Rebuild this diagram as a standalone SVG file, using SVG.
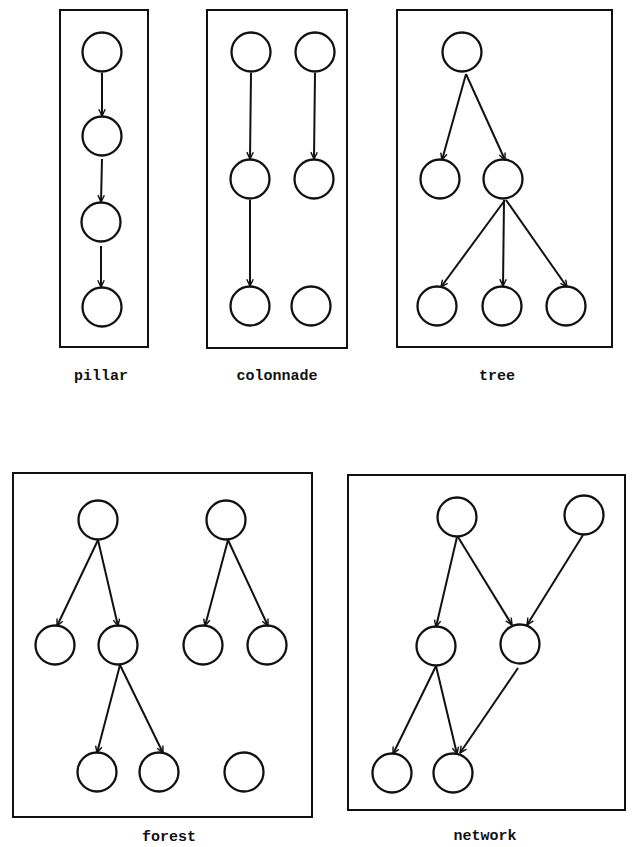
<svg xmlns="http://www.w3.org/2000/svg" width="633" height="847" viewBox="0 0 633 847">
<style>
.frame{fill:none;stroke:#111;stroke-width:2}
.node{fill:none;stroke:#111;stroke-width:2.3}
.edge{fill:none;stroke:#111;stroke-width:2;marker-end:url(#arr)}
.lbl{font-family:"Liberation Mono","DejaVu Sans Mono",monospace;font-weight:bold;font-size:15px;fill:#111;text-anchor:middle}
</style>
<defs>
<marker id="arr" viewBox="0 0 10 10" refX="9.5" refY="5" markerWidth="8" markerHeight="8" markerUnits="userSpaceOnUse" orient="auto">
<path d="M1,1 L9.5,5 L1,9" fill="none" stroke="#111" stroke-width="1.8"/>
</marker>
</defs>
<rect width="633" height="847" fill="#fff"/>

<g id="frames">
<rect class="frame" x="60" y="10" width="88" height="337"/>
<rect class="frame" x="207" y="10" width="140" height="338"/>
<rect class="frame" x="397" y="10" width="215" height="337"/>
<rect class="frame" x="13" y="473" width="299" height="344"/>
<rect class="frame" x="348" y="475" width="277" height="335"/>
</g>

<g id="pillar">
<circle id="p1" class="node" cx="102" cy="52" r="19.5"/>
<circle id="p2" class="node" cx="102" cy="136" r="19.5"/>
<circle id="p3" class="node" cx="101" cy="222" r="19.5"/>
<circle id="p4" class="node" cx="102" cy="307" r="19.5"/>
</g>

<g id="colonnade">
<circle id="c1" class="node" cx="251" cy="52" r="19.5"/>
<circle id="c2" class="node" cx="315" cy="52" r="19.5"/>
<circle id="c3" class="node" cx="250" cy="179" r="19.5"/>
<circle id="c4" class="node" cx="314" cy="179" r="19.5"/>
<circle id="c5" class="node" cx="250" cy="306" r="19.5"/>
<circle id="c6" class="node" cx="311" cy="306" r="19.5"/>
</g>

<g id="tree">
<circle id="t1" class="node" cx="462" cy="52" r="19.5"/>
<circle id="t2" class="node" cx="440" cy="179" r="19.5"/>
<circle id="t3" class="node" cx="503" cy="179" r="19.5"/>
<circle id="t4" class="node" cx="437" cy="306" r="19.5"/>
<circle id="t5" class="node" cx="502" cy="306" r="19.5"/>
<circle id="t6" class="node" cx="566" cy="306" r="19.5"/>
</g>

<g id="forest">
<circle id="f1" class="node" cx="98" cy="520" r="19.5"/>
<circle id="f2" class="node" cx="226" cy="520" r="19.5"/>
<circle id="f3" class="node" cx="55" cy="645" r="19.5"/>
<circle id="f4" class="node" cx="118" cy="645" r="19.5"/>
<circle id="f5" class="node" cx="203" cy="645" r="19.5"/>
<circle id="f6" class="node" cx="267" cy="645" r="19.5"/>
<circle id="f7" class="node" cx="97" cy="772" r="19.5"/>
<circle id="f8" class="node" cx="159" cy="772" r="19.5"/>
<circle id="f9" class="node" cx="244" cy="772" r="19.5"/>
</g>

<g id="network">
<circle id="n1" class="node" cx="457" cy="517" r="19.5"/>
<circle id="n2" class="node" cx="584" cy="515" r="19.5"/>
<circle id="n3" class="node" cx="436" cy="646" r="19.5"/>
<circle id="n4" class="node" cx="520" cy="644" r="19.5"/>
<circle id="n5" class="node" cx="392" cy="773" r="19.5"/>
<circle id="n6" class="node" cx="453" cy="773" r="19.5"/>
</g>

<g id="connectors">
<line class="edge" x1="102" y1="73" x2="102" y2="116"/>
<line class="edge" x1="102" y1="159" x2="101" y2="202"/>
<line class="edge" x1="101" y1="246" x2="101" y2="287"/>

<line class="edge" x1="251" y1="73" x2="250" y2="159"/>
<line class="edge" x1="250" y1="200" x2="250" y2="286"/>
<line class="edge" x1="315" y1="73" x2="314" y2="159"/>

<line class="edge" x1="466" y1="74" x2="442" y2="160"/>
<line class="edge" x1="466" y1="74" x2="505" y2="160"/>
<line class="edge" x1="505" y1="200" x2="441" y2="287"/>
<line class="edge" x1="504" y1="200" x2="503" y2="286"/>
<line class="edge" x1="506" y1="200" x2="567" y2="287"/>

<line class="edge" x1="98" y1="540" x2="57" y2="626"/>
<line class="edge" x1="98" y1="540" x2="118" y2="626"/>
<line class="edge" x1="228" y1="540" x2="205" y2="626"/>
<line class="edge" x1="228" y1="540" x2="268" y2="626"/>
<line class="edge" x1="120" y1="665" x2="97" y2="753"/>
<line class="edge" x1="120" y1="665" x2="163" y2="753"/>

<line class="edge" x1="457" y1="537" x2="436" y2="627"/>
<line class="edge" x1="458" y1="537" x2="512" y2="625"/>
<line class="edge" x1="583" y1="535" x2="527" y2="625"/>
<line class="edge" x1="436" y1="666" x2="393" y2="754"/>
<line class="edge" x1="436" y1="666" x2="457" y2="754"/>
<line class="edge" x1="518" y1="668" x2="460" y2="753"/>
</g>

<g id="labels">
<text class="lbl" x="101" y="380">pillar</text>
<text class="lbl" x="277" y="380">colonnade</text>
<text class="lbl" x="497" y="380">tree</text>
<text class="lbl" x="169" y="841">forest</text>
<text class="lbl" x="485" y="840">network</text>
</g>
</svg>
